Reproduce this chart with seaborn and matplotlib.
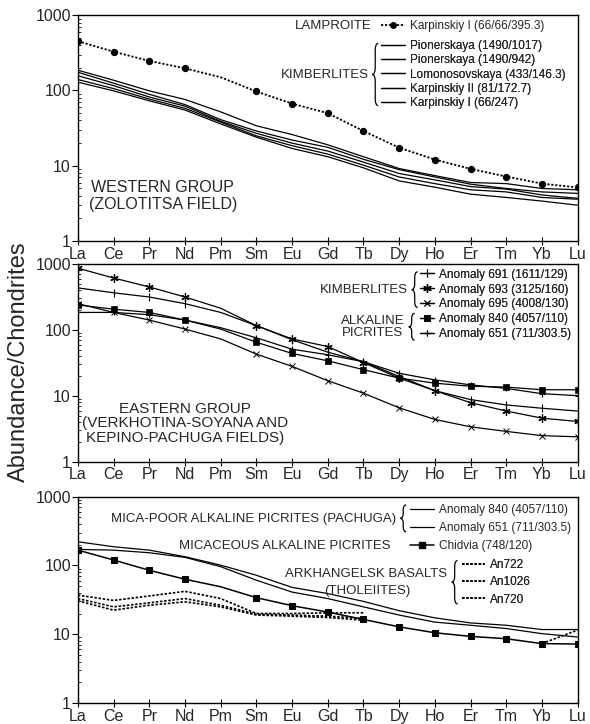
import numpy as np
import matplotlib
matplotlib.use("Agg")
import matplotlib.pyplot as plt
import seaborn as sns
from matplotlib.lines import Line2D
from matplotlib.path import Path
from matplotlib.patches import PathPatch
from matplotlib.ticker import LogLocator, NullFormatter

# ─── Data (chondrite-normalised REE) ──────────────────────────────────────────
ELEMENTS = ["La", "Ce", "Pr", "Nd", "Pm", "Sm", "Eu", "Gd",
            "Tb", "Dy", "Ho", "Er", "Tm", "Yb", "Lu"]
NAN = np.nan

# western group (Zolotitsa field)
LAMP_KARP1   = [451, 328, 247, 197, 150, 97, 67, 50, 29, 17.4, 12.1, 9.1, 7.2, 5.8, 5.15]
KIMB_PION1   = [186, 137, 99, 76, 52, 34, 26, 19, 13.2, 9.2, 7.4, 6.0, 5.8, 5.0, 4.8]
KIMB_PION2   = [175, 125, 89, 65, 41, 29, 22, 17.6, 12.2, 8.9, 7.1, 5.7, 5.0, 4.5, 4.3]
KIMB_LOMON   = [157, 116, 82, 62, 39, 27, 20, 15.7, 11.2, 7.9, 6.5, 5.3, 4.9, 4.1, 3.7]
KIMB_KARP2   = [140, 106, 77, 58, 38, 25, 18.5, 14.3, 10.2, 7.1, 5.8, 4.8, 4.5, 3.8, 3.6]
KIMB_KARP1   = [129, 99, 73, 55, 36, 24, 17, 13.2, 9.4, 6.3, 5.2, 4.2, 3.8, 3.4, 3.0]
WEST_LABELS  = ["Pionerskaya (1490/1017)", "Pionerskaya (1490/942)",
                "Lomonosovskaya (433/146.3)", "Karpinskiy II (81/172.7)",
                "Karpinskiy I (66/247)"]

# eastern group
A691 = [433, 365, 315, 250, 184, 116, 71, 46, 33, 19.7, 12, 8.8, 7.3, 6.5, 5.9]
A693 = [861, 611, 448, 315, 213, 116, 73, 56, 32, 18.6, 12, 7.9, 5.9, 4.6, 4.1]
A695 = [250, 184, 141, 103, 73, 43, 28, 17, 11, 6.6, 4.4, 3.4, 2.9, 2.5, 2.4]
A840 = [239, 206, 184, 141, 103, 65, 44, 34, 25, 18.6, 15.6, 14, 13.6, 12.4, 12.4]
A651 = [184, 184, 170, 141, 108, 76, 51, 42, 33, 22, 17.5, 14.7, 13, 10.8, 10.1]
EAST_LABELS = ["Anomaly 691 (1611/129)", "Anomaly 693 (3125/160)",
               "Anomaly 695 (4008/130)", "Anomaly 840 (4057/110)",
               "Anomaly 651 (711/303.5)"]

# alkaline picrites and basalts
B840    = [221, 187, 167, 134, 101, 72, 48, 39, 30, 22, 17.3, 14.6, 13.5, 11.7, 11.7]
B651    = [171, 167, 153, 131, 96, 61, 41, 33, 25, 19, 15, 13.5, 12.1, 10.2, 9.1]
CHIDVIA = [167, 120, 85, 63, 49, 34, 26, 21, 16.4, 12.8, 10.5, 9.3, 8.6, 7.3, 7.2]
AN722   = [37, 31, 36, 42, 33, 20, 20, 20.5, 20.5, NAN, NAN, NAN, NAN, NAN, NAN]
AN1026  = [33, 25, 28.6, 33, 26.4, 19.5, 19, 18.3, 17, NAN, NAN, NAN, NAN, NAN, NAN]
AN720   = [30.6, 22.4, 26.4, 29.6, 25, 19, 18.3, 17.5, 16, NAN, NAN, NAN, NAN, 7.3, 11.5]

# ─── Style ────────────────────────────────────────────────────────────────────
sns.set_style("ticks")
plt.rcParams["font.family"] = ["Liberation Sans", "DejaVu Sans"]
plt.rcParams["axes.edgecolor"] = "black"
plt.rcParams["axes.linewidth"] = 1.0

LEG_FS = 8.5
LAB_FS = 9.5
GRP_FS = 11.5


def plot_series(ax, values, **kw):
    """Plot one REE pattern, split at gaps; no marker on Pm (interpolated)."""
    vals = np.asarray(values, dtype=float)
    idx = np.arange(len(vals))
    ok = ~np.isnan(vals)
    segs = np.split(idx[ok], np.where(np.diff(idx[ok]) > 1)[0] + 1)
    for seg in segs:
        mark = [i for i, j in enumerate(seg) if ELEMENTS[j] != "Pm"]
        sns.lineplot(x=seg, y=vals[seg], ax=ax, color="black",
                     markevery=mark, markeredgecolor="black",
                     errorbar=None, sort=False, **kw)


def brace(ax, x, y0, y1, w=0.012, c=0.03):
    ym = (y0 + y1) / 2
    xm = x + w / 2
    verts = [(x + w, y1), (xm, y1), (xm, y1 - c), (xm, ym + c),
             (xm, ym), (x, ym), (xm, ym), (xm, ym - c),
             (xm, y0 + c), (xm, y0), (x + w, y0)]
    codes = [Path.MOVETO, Path.CURVE3, Path.CURVE3, Path.LINETO,
             Path.CURVE3, Path.CURVE3, Path.CURVE3, Path.CURVE3,
             Path.LINETO, Path.CURVE3, Path.CURVE3]
    ax.add_patch(PathPatch(Path(verts, codes), transform=ax.transAxes,
                           fill=False, lw=0.9, color="black", clip_on=False))


def add_legend(ax, handles, labels, x, y, hl=2.0, ls=0.0):
    leg = ax.legend(handles, labels, loc="center left", bbox_to_anchor=(x, y),
                    frameon=False, fontsize=LEG_FS, handlelength=hl,
                    handletextpad=0.4, labelspacing=ls, borderpad=0,
                    borderaxespad=0, numpoints=1)
    ax.add_artist(leg)
    return leg


def label(ax, x, y, s, fs=LAB_FS, ha="right", **kw):
    ax.text(x, y, s, ha=ha, va="center", fontsize=fs,
            transform=ax.transAxes, **kw)


def style_axes(ax):
    ax.set_yscale("log")
    ax.set_ylim(1, 1000)
    ax.set_xlim(0, len(ELEMENTS) - 1)
    ax.set_xticks(range(len(ELEMENTS)), ELEMENTS)
    ax.set_yticks([1, 10, 100, 1000], ["1", "10", "100", "1000"])
    ax.yaxis.set_minor_locator(LogLocator(base=10, subs=np.arange(2, 10)))
    ax.yaxis.set_minor_formatter(NullFormatter())
    ax.tick_params(axis="x", which="major", direction="inout", length=6,
                   width=0.8, labelsize=11.5, pad=1, color="black")
    ax.tick_params(axis="y", which="major", direction="out", length=4,
                   width=0.8, labelsize=11.5, pad=1, color="black")
    ax.tick_params(axis="y", which="minor", direction="in", length=2.5,
                   width=0.6, color="black")
    ax.set_xlabel("")
    ax.set_ylabel("")
    for s in ax.spines.values():
        s.set_visible(True)
        s.set_color("black")


fig = plt.figure(figsize=(5.9, 7.24), dpi=100)
ax_top = fig.add_axes([0.132, 0.667, 0.847, 0.312])
ax_mid = fig.add_axes([0.132, 0.362, 0.847, 0.2735])
ax_bot = fig.add_axes([0.132, 0.029, 0.847, 0.285])

# ─── Western group ────────────────────────────────────────────────────────────
dotted = dict(ls=(0, (1.2, 1.0)), lw=1.3)
plot_series(ax_top, LAMP_KARP1, marker="o", ms=4.5, **dotted)
for vals in [KIMB_PION1, KIMB_PION2, KIMB_LOMON, KIMB_KARP2, KIMB_KARP1]:
    plot_series(ax_top, vals, lw=0.9)
style_axes(ax_top)

h_lamp = Line2D([], [], color="black", marker="o", ms=4, **dotted)
h_kimb = [Line2D([], [], color="black", lw=0.9) for _ in WEST_LABELS]
add_legend(ax_top, [h_lamp], ["Karpinskiy I (66/66/395.3)"], 0.607, 0.952)
add_legend(ax_top, h_kimb, WEST_LABELS, 0.607, 0.737, ls=0.2)
label(ax_top, 0.588, 0.952, "LAMPROITE")
label(ax_top, 0.583, 0.737, "KIMBERLITES")
brace(ax_top, 0.589, 0.6, 0.875)
label(ax_top, 0.17, 0.2, "WESTERN GROUP\n(ZOLOTITSA FIELD)", fs=GRP_FS,
      ha="center", linespacing=1.2)

# ─── Eastern group ────────────────────────────────────────────────────────────
east_styles = [
    dict(marker="|", ms=6, mew=0.8),
    dict(marker=(6, 2, 0), ms=6, mew=0.9),
    dict(marker="x", ms=4, mew=0.7),
    dict(marker="s", ms=4.5, mew=0.5),
    dict(marker="+", ms=5, mew=0.8),
]
for vals, st in zip([A691, A693, A695, A840, A651], east_styles):
    plot_series(ax_mid, vals, lw=0.9, **st)
style_axes(ax_mid)

h_east = [Line2D([], [], color="black", lw=0.9, **st) for st in east_styles]
add_legend(ax_mid, h_east, EAST_LABELS, 0.685, 0.795, hl=1.2, ls=0.25)
label(ax_mid, 0.661, 0.87, "KIMBERLITES")
brace(ax_mid, 0.668, 0.78, 0.96)
label(ax_mid, 0.654, 0.683, "ALKALINE\nPICRITES", multialignment="center",
      linespacing=1.0)
brace(ax_mid, 0.662, 0.615, 0.75, c=0.025)
label(ax_mid, 0.215, 0.195,
      "EASTERN GROUP\n(VERKHOTINA-SOYANA AND\nKEPINO-PACHUGA FIELDS)",
      fs=11, ha="center", linespacing=1.05)

# ─── Alkaline picrites / basalts ──────────────────────────────────────────────
plot_series(ax_bot, B840, lw=0.9)
plot_series(ax_bot, B651, lw=0.9)
plot_series(ax_bot, CHIDVIA, lw=1.1, marker="s", ms=5)
basalt = dict(ls=(0, (1.5, 1.0)), lw=1.2)
for vals in [AN722, AN1026, AN720]:
    plot_series(ax_bot, vals, **basalt)
style_axes(ax_bot)

h_pic = [Line2D([], [], color="black", lw=0.9) for _ in range(2)]
add_legend(ax_bot, h_pic, ["Anomaly 840 (4057/110)", "Anomaly 651 (711/303.5)"],
           0.665, 0.893, ls=0.5)
h_chid = Line2D([], [], color="black", lw=1.1, marker="s", ms=4)
add_legend(ax_bot, [h_chid], ["Chidvia (748/120)"], 0.665, 0.76)
h_bas = [Line2D([], [], color="black", **basalt) for _ in range(3)]
add_legend(ax_bot, h_bas, ["An722", "An1026", "An720"], 0.768, 0.585, ls=0.45)
label(ax_bot, 0.637, 0.893, "MICA-POOR ALKALINE PICRITES (PACHUGA)")
brace(ax_bot, 0.645, 0.83, 0.96, c=0.025)
label(ax_bot, 0.626, 0.76, "MICACEOUS ALKALINE PICRITES")
label(ax_bot, 0.739, 0.625, "ARKHANGELSK BASALTS")
label(ax_bot, 0.58, 0.545, "(THOLEIITES)", ha="center")
brace(ax_bot, 0.748, 0.48, 0.69)

fig.text(0.032, 0.50, "Abundance/Chondrites", rotation=90, ha="center",
         va="center", fontsize=17)

fig.savefig("out.png", dpi=100)
